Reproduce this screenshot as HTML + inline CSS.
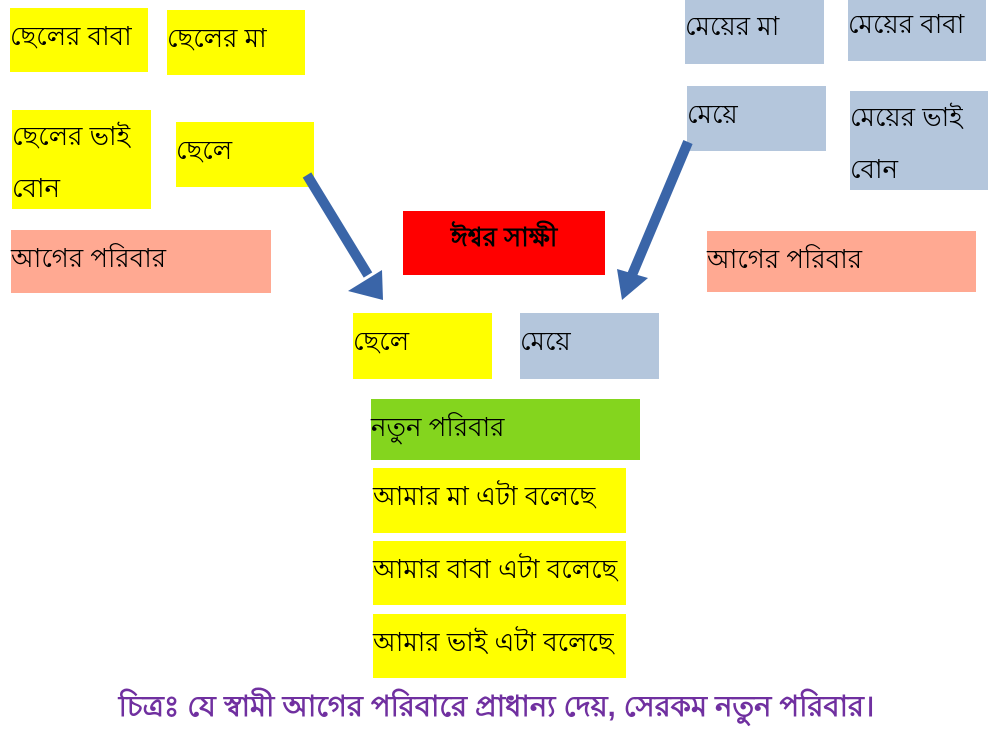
<!DOCTYPE html>
<html><head><meta charset="utf-8"><style>
body{margin:0;width:993px;height:731px;background:#fff;position:relative;overflow:hidden;font-family:"Liberation Sans",sans-serif}
.b{position:absolute;font-size:26px;line-height:48px;color:#000;box-sizing:border-box;padding-left:0px;white-space:nowrap}
.y{background:#ffff00}.g{background:#b4c6dc}.s{background:#ffa992}
</style></head><body>
<div class="b y" style="left:10px;top:8px;width:138px;height:64px;line-height:56px">ছেলের বাবা</div>
<div class="b y" style="left:167px;top:10px;width:138px;height:65px;line-height:56px">ছেলের মা</div>
<div class="b y" style="left:12px;top:110px;width:139px;height:99px;line-height:52px">ছেলের ভাই<br>বোন</div>
<div class="b y" style="left:176px;top:122px;width:138px;height:65px;line-height:56px">ছেলে</div>
<div class="b s" style="left:11px;top:230px;width:260px;height:63px;line-height:56px">আগের পরিবার</div>
<div class="b g" style="left:685px;top:0;width:139px;height:64px;line-height:52px">মেয়ের মা</div>
<div class="b g" style="left:848px;top:0;width:138px;height:61px;line-height:48px">মেয়ের বাবা</div>
<div class="b g" style="left:687px;top:86px;width:139px;height:65px;line-height:56px">মেয়ে</div>
<div class="b g" style="left:850px;top:91px;width:138px;height:99px;line-height:52px">মেয়ের ভাই<br>বোন</div>
<div class="b s" style="left:707px;top:231px;width:269px;height:61px;line-height:56px">আগের পরিবার</div>
<div class="b" style="left:403px;top:211px;width:202px;height:64px;background:#ff0000;text-align:center;font-weight:bold;line-height:52px">ঈশ্বর সাক্ষী</div>
<div class="b y" style="left:353px;top:313px;width:139px;height:66px;line-height:56px">ছেলে</div>
<div class="b g" style="left:520px;top:313px;width:139px;height:66px;line-height:56px">মেয়ে</div>
<div class="b" style="left:371px;top:399px;width:269px;height:61px;background:#84d51e;line-height:56px">নতুন পরিবার</div>
<div class="b y" style="left:373px;top:468px;width:253px;height:65px;line-height:56px">আমার মা এটা বলেছে</div>
<div class="b y" style="left:373px;top:541px;width:253px;height:64px;line-height:56px">আমার বাবা এটা বলেছে</div>
<div class="b y" style="left:373px;top:614px;width:253px;height:64px;line-height:56px">আমার ভাই এটা বলেছে</div>
<div style="position:absolute;left:0;top:684px;width:993px;text-align:center;font-size:29px;font-weight:bold;color:#7030a0;line-height:46px;white-space:nowrap">চিত্রঃ যে স্বামী আগের পরিবারে প্রাধান্য দেয়, সেরকম নতুন পরিবার।</div>
<svg width="993" height="731" style="position:absolute;left:0;top:0">
<g fill="#3a65a8" stroke="none">
<line x1="307" y1="175" x2="368" y2="275" stroke="#3a65a8" stroke-width="10"/>
<polygon points="348,291 383,300 382,270"/>
<line x1="688" y1="142" x2="632" y2="275" stroke="#3a65a8" stroke-width="10"/>
<polygon points="617,269 622,300 648,278"/>
</g>
</svg>
</body></html>
